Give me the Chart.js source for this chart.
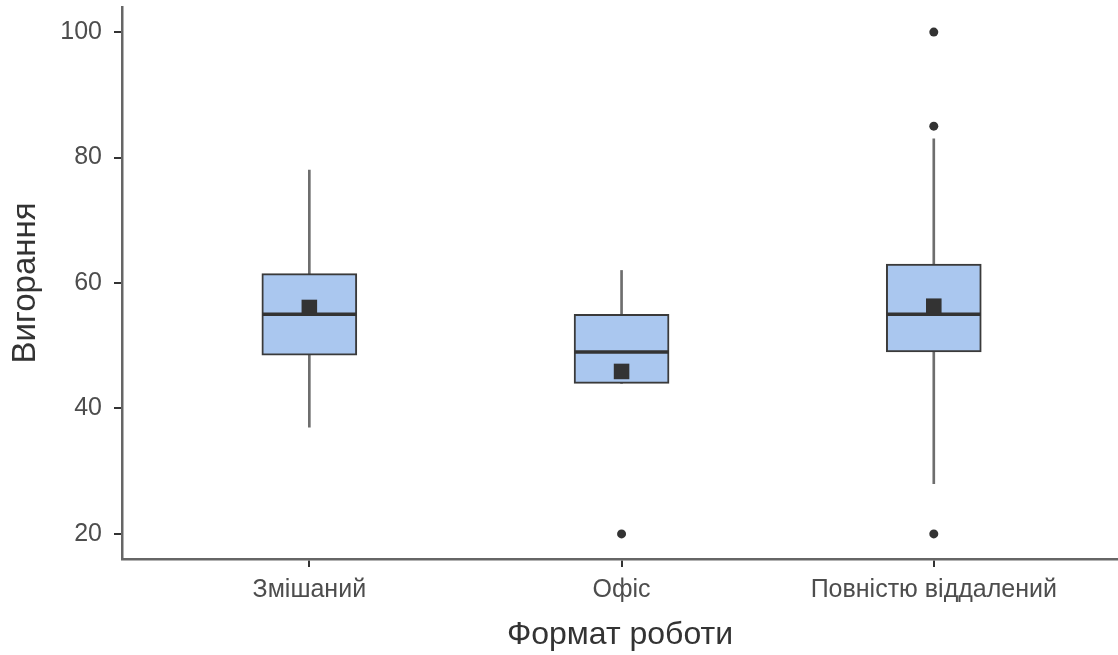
<!DOCTYPE html>
<html>
<head>
<meta charset="utf-8">
<script src="https://cdn.jsdelivr.net/npm/chart.js@4"></script>
<style>
    html, body { margin: 0; padding: 0; background: #ffffff; }
    #wrap { width: 1118px; height: 655px; position: relative; }
</style>
</head>
<body>
<div id="wrap"><canvas id="grafica"></canvas></div>
<script>
// categorias y estadisticos de cada caja
const categorias = ['Змішаний', 'Офіс', 'Повністю віддалений'];
const q1 = [48.5, 44, 49];
const q3 = [61.5, 55, 63];
const medianas = [55, 49, 55];
const medias = [56.1, 45.9, 56.3];
const bigoteBajo = [37, 44, 28];
const bigoteAlto = [78, 62, 83];
const atipicos = [[], [20], [100, 85, 20]];
const ticksY = [20, 40, 60, 80, 100];

const posX = categorias.map((c, i) => i + 1);

const cajas = posX.map((x, i) => ({ x: x, y: [q1[i], q3[i]] }));
const bigotes = posX.map((x, i) => ({ x: x, y: [bigoteBajo[i], bigoteAlto[i]] }));
const puntosMediana = posX.map((x, i) => ({ x: x, y: medianas[i] }));
const puntosMedia = posX.map((x, i) => ({ x: x, y: medias[i] }));
const puntosAtipicos = [];
atipicos.forEach((lista, i) => {
    lista.forEach(v => puntosAtipicos.push({ x: posX[i], y: v }));
});

const fuente = "'Liberation Sans', Arial, sans-serif";

const datos = {
    datasets: [
        {
            type: 'scatter',
            data: puntosMedia,
            pointStyle: 'rect',
            pointRadius: 11,
            pointBackgroundColor: '#333333',
            pointBorderWidth: 0,
            order: 0
        },
        {
            type: 'scatter',
            data: puntosAtipicos,
            pointStyle: 'circle',
            pointRadius: 4.5,
            pointBackgroundColor: '#333333',
            pointBorderWidth: 0,
            order: 0
        },
        {
            type: 'scatter',
            data: puntosMediana,
            pointStyle: 'line',
            pointRadius: 47,
            pointBorderColor: '#333333',
            pointBorderWidth: 3.5,
            order: 1
        },
        {
            type: 'bar',
            data: cajas,
            backgroundColor: '#aac7ef',
            borderColor: '#3a3a3a',
            borderWidth: 2,
            borderSkipped: false,
            barThickness: 95,
            grouped: false,
            order: 2
        },
        {
            type: 'bar',
            data: bigotes,
            backgroundColor: '#6e6e6e',
            borderWidth: 0,
            barThickness: 2,
            grouped: false,
            order: 3
        }
    ]
};

const opciones = {
    responsive: true,
    maintainAspectRatio: false,
    animation: false,
    layout: {
        autoPadding: false,
        padding: { top: 7, right: 0, left: 0, bottom: 0 }
    },
    plugins: {
        legend: { display: false },
        tooltip: { enabled: false }
    },
    scales: {
        x: {
            type: 'linear',
            offset: false,
            min: 0.4,
            max: 3.59,
            afterBuildTicks: (escala) => {
                escala.ticks = posX.map(v => ({ value: v }));
            },
            afterFit: (escala) => {
                escala.height = 96;
                escala.paddingLeft = 0;
                escala.paddingRight = 0;
            },
            ticks: {
                autoSkip: false,
                maxRotation: 0,
                padding: 8,
                color: '#4d4d4d',
                font: { family: fuente, size: 25 },
                callback: (v) => categorias[v - 1]
            },
            grid: {
                offset: false,
                drawOnChartArea: false,
                drawTicks: true,
                tickLength: 8,
                color: '#333333',
                lineWidth: 2
            },
            border: { display: true, color: '#666666', width: 2.5 },
            title: {
                display: true,
                text: 'Формат роботи',
                color: '#333333',
                font: { family: fuente, size: 32 },
                padding: { top: 0, bottom: 1 }
            }
        },
        y: {
            type: 'linear',
            min: 16,
            max: 104,
            afterBuildTicks: (escala) => {
                escala.ticks = ticksY.map(v => ({ value: v }));
            },
            afterFit: (escala) => {
                escala.width = 122;
                escala.paddingTop = 0;
                escala.paddingBottom = 0;
            },
            ticks: {
                padding: 12,
                color: '#4d4d4d',
                font: { family: fuente, size: 25 }
            },
            grid: {
                drawOnChartArea: false,
                drawTicks: true,
                tickLength: 8,
                color: '#333333',
                lineWidth: 2
            },
            border: { display: true, color: '#666666', width: 2.5 },
            title: {
                display: true,
                text: 'Вигорання',
                color: '#333333',
                font: { family: fuente, size: 33 },
                padding: { top: 6, bottom: 0 }
            }
        }
    }
};

new Chart(document.getElementById('grafica'), {
    type: 'bar',
    data: datos,
    options: opciones
});
</script>
</body>
</html>
